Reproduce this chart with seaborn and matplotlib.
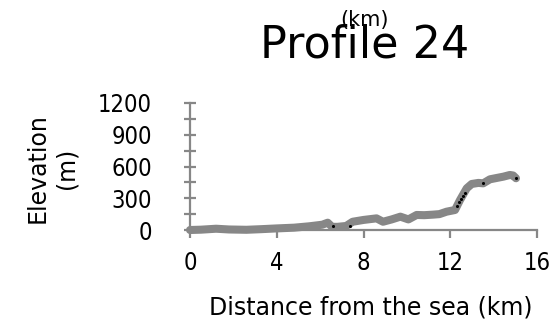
import numpy as np
import pandas as pd
import matplotlib
matplotlib.use("Agg")
import matplotlib.pyplot as plt
import seaborn as sns

# ---- data ----
distance_km = [0, 0.5, 1.2, 1.8, 2.6, 3.3, 4.0, 4.8, 5.5, 6.1, 6.35, 6.55, 6.8,
               7.2, 7.5, 8.0, 8.6, 8.9, 9.3, 9.7, 10.07, 10.45, 10.8, 11.2,
               11.5, 11.83, 12.22, 12.45, 12.76, 12.99, 13.3, 13.52, 13.83,
               14.1, 14.45, 14.75, 14.9, 15.03]
elevation_m = [0, 3, 12, 5, 2, 8, 15, 22, 35, 50, 69, 30, 30,
               38, 78, 95, 110, 78, 100, 126, 100, 142, 140, 145,
               150, 173, 189, 283, 394, 435, 445, 441, 479,
               490, 504, 520, 515, 489]
detail_km = [6.6, 7.4, 12.3, 12.4, 12.5, 12.6, 12.7, 13.5, 15.03]
detail_m = [40, 40, 230, 260, 290, 320, 350, 441, 489]

x_ticks = [0, 4, 8, 12, 16]
y_ticks = [0, 150, 300, 450, 600, 750, 900, 1050, 1200]
y_ticklabels = ["0", "", "300", "", "600", "", "900", "", "1200"]

title = "Profile 24"
stray_text = "(km)"
x_label = "Distance from the sea (km)"
y_label = "Elevation\n(m)"

profile = pd.DataFrame({"Distance": distance_km, "Elevation": elevation_m})
details = pd.DataFrame({"Distance": detail_km, "Elevation": detail_m})

sns.set_style("white")
plt.rcParams["font.family"] = ["DejaVu Sans"]
plt.rcParams["text.color"] = "black"
plt.rcParams["axes.labelcolor"] = "black"
plt.rcParams["xtick.color"] = "black"
plt.rcParams["ytick.color"] = "black"

W, H = 554, 324
fig = plt.figure(figsize=(W / 100, H / 100), dpi=100)
ax = fig.add_axes([190 / W, 1 - 230 / H, (537 - 190) / W, 127 / H])

gray = "#878787"
sns.lineplot(data=profile, x="Distance", y="Elevation", ax=ax, color=gray,
             linewidth=5.8, solid_capstyle="round", solid_joinstyle="round",
             clip_on=False, zorder=3)
sns.scatterplot(data=details, x="Distance", y="Elevation", ax=ax,
                color="black", s=5, linewidth=0, clip_on=False, zorder=4)

ax.set_xlim(0, 16)
ax.set_ylim(0, 1200)
ax.set_xticks(x_ticks)
ax.set_xticklabels([str(t) for t in x_ticks])
ax.set_yticks(y_ticks)
ax.set_yticklabels(y_ticklabels)

for s in ["top", "right"]:
    ax.spines[s].set_visible(False)
for s in ["left", "bottom"]:
    ax.spines[s].set_color(gray)
    ax.spines[s].set_linewidth(1.6)

ax.tick_params(axis="x", bottom=True, direction="out", length=6, width=1.6,
               color=gray, labelcolor="black", pad=9, labelsize=17)
ax.tick_params(axis="y", left=True, direction="inout", length=9, width=1.6,
               color=gray, labelcolor="black", pad=23, labelsize=17)
for lab in ax.get_xticklabels() + ax.get_yticklabels():
    lab.set_fontstretch("condensed")

ax.set_xlabel(x_label, fontsize=17, va="center", color="black")
ax.xaxis.set_label_coords((371 - 190) / 347, (230 - 307) / 127)
ax.set_ylabel(y_label, fontsize=17, va="center", linespacing=1.3, color="black")
ax.yaxis.set_label_coords((52 - 190) / 347, (230 - 168) / 127)

fig.text(365 / W, 1 - 45 / H, title, fontsize=32, ha="center", va="center",
         color="black")
fig.text(364 / W, 1 - 20 / H, stray_text, fontsize=15, ha="center",
         va="center", color="black")

fig.savefig("out.png", dpi=100, facecolor="white")
